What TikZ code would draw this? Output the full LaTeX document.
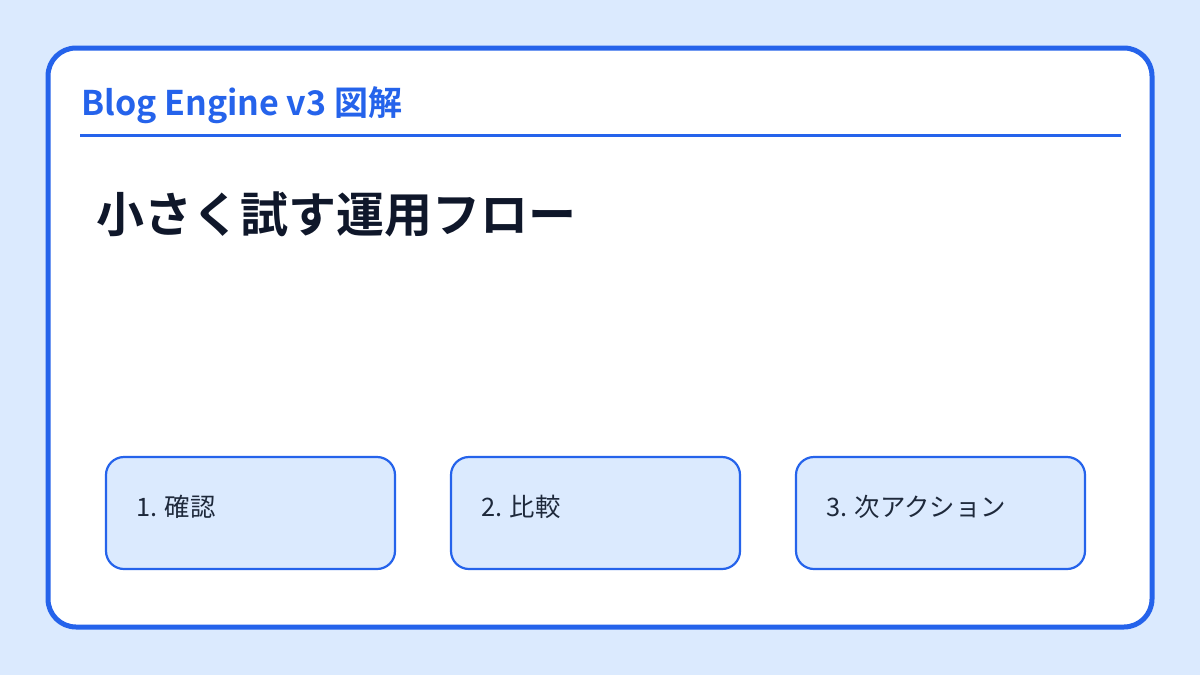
\documentclass[tikz,border=0pt]{standalone}
\usepackage{fontspec}
\setmainfont{Noto Sans CJK JP}
\newfontfamily\cjkbold{Noto Sans CJK JP Bold}
\definecolor{accent}{HTML}{2563EB}
\definecolor{pale}{HTML}{DBEAFE}
\definecolor{ink}{HTML}{0F172A}
\definecolor{boxink}{HTML}{1E293B}
\begin{document}
\begin{tikzpicture}[x=1pt,y=-1pt,
  card/.style={draw=accent,line width=5pt,fill=white,rounded corners=28pt},
  stepbox/.style={draw=accent,line width=2.2pt,fill=pale,rounded corners=18pt},
  steplabel/.style={anchor=west,font=\fontsize{25.4}{30}\selectfont,text=boxink,inner sep=0pt}]
\fill[pale] (0,0) rectangle (1200,675);
\useasboundingbox (0,0) rectangle (1200,675);
\draw[card] (48,48) rectangle (1152,627);
\node[anchor=base west,inner sep=0pt,text=accent,font=\cjkbold\fontsize{34}{40}\selectfont] (hdr) at (81,115) {Blog Engine v3 図解};
\coordinate (ruleL) at (80,135.5);
\coordinate (ruleR) at (1121,135.5);
\draw[accent,line width=3pt] (ruleL) -- (ruleR);
\node[anchor=base west,inner sep=0pt,text=ink,font=\cjkbold\fontsize{48}{54}\selectfont] (title) at (96,232) {小さく試す運用フロー};
\draw[stepbox] (106,457) rectangle (395,569);
\draw[stepbox] (451,457) rectangle (740,569);
\draw[stepbox] (796,457) rectangle (1085,569);
\node[steplabel] (s1) at (136,507) {1. 確認};
\node[steplabel] (s2) at (481,507) {2. 比較};
\node[steplabel] (s3) at (826,507) {3. 次アクション};
\end{tikzpicture}
\end{document}
